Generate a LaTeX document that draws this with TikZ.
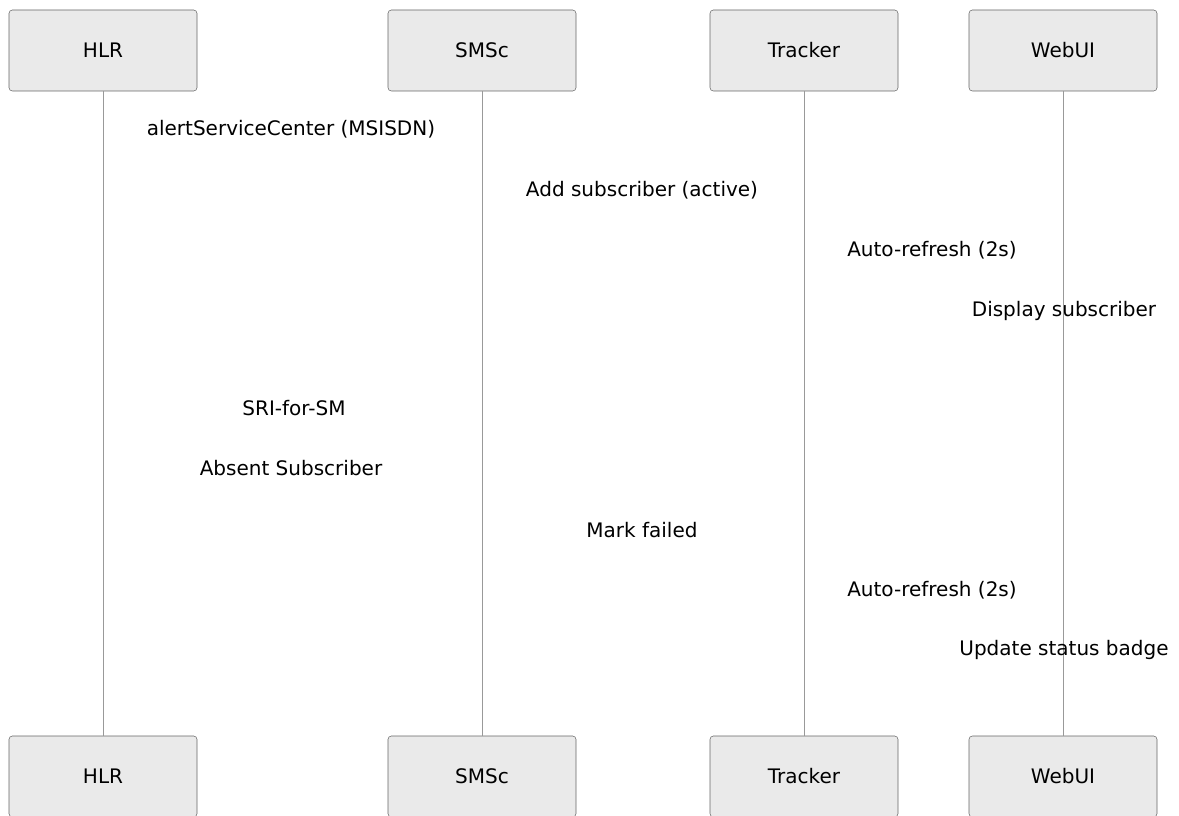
\documentclass[tikz,border=0pt]{standalone}
\usepackage{fontspec}
\setmainfont{DejaVu Sans}
\usepackage{tikz}
\definecolor{boxfill}{HTML}{EAEAEA}
\definecolor{boxline}{HTML}{666666}
\definecolor{lifeline}{HTML}{999999}

\begin{document}
\begin{tikzpicture}[x=0.75pt,y=-0.75pt, node font = \fontsize{15}{18}\selectfont,
	actor/.style={draw=boxline, fill=boxfill, rounded corners=2.5pt, minimum width=141pt, minimum height=60.75pt, inner sep=0pt},
	life/.style={draw=lifeline, line width=0.75pt},
	msg/.style={inner sep=1pt}]
			\useasboundingbox (0,0) rectangle (1179,816);
			% top row
			\draw (103,50.5) node[actor] (hlrT) {HLR};
			\draw (482,50.5) node[actor] (smscT) {SMSc};
			\draw (804,50.5) node[actor] (trkT) {Tracker};
			\draw (1063,50.5) node[actor] (webT) {WebUI};
			% bottom row
			\draw (103,776.5) node[actor] (hlrB) {HLR};
			\draw (482,776.5) node[actor] (smscB) {SMSc};
			\draw (804,776.5) node[actor] (trkB) {Tracker};
			\draw (1063,776.5) node[actor] (webB) {WebUI};
			
			\draw[life] (hlrT) -- (hlrB);
			\draw[life] (smscT) -- (smscB);
			\draw[life] (trkT) -- (trkB);
			\draw[life] (webT) -- (webB);
			
			\draw (291,129) node[msg] (m1) {alertServiceCenter (MSISDN)};
			\draw (642,190) node[msg] (m2) {Add subscriber (active)};
			\draw (932,250) node[msg] (m3) {Auto-refresh (2s)};
			\draw (1064,311) node[msg] (m4) {Display subscriber};
			\draw (294,408) node[msg] (m5) {SRI-for-SM};
			\draw (291,468) node[msg] (m6) {Absent Subscriber};
			\draw (642,530) node[msg] (m7) {Mark failed};
			\draw (932,590) node[msg] (m8) {Auto-refresh (2s)};
			\draw (1064,650) node[msg] (m9) {Update status badge};
		\end{tikzpicture}
\end{document}
